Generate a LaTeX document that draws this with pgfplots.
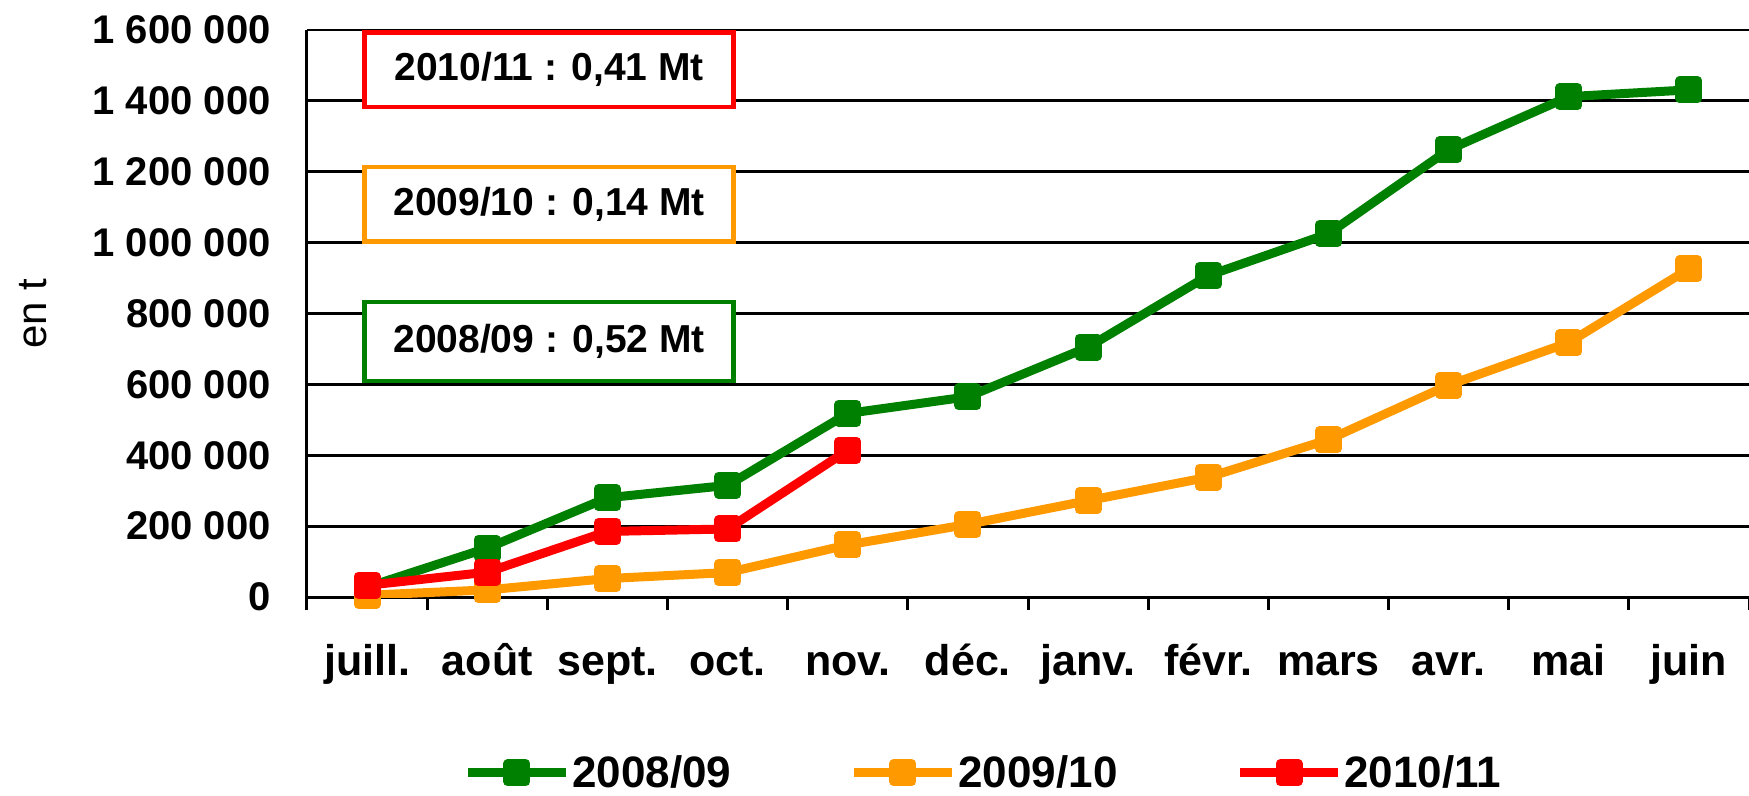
\documentclass[border=0pt]{standalone}
\usepackage{pgfplots}
\pgfplotsset{compat=1.18}
\usepackage{fontspec}
\setmainfont{Liberation Sans}
\definecolor{cgreen}{RGB}{0,128,0}
\definecolor{corange}{RGB}{255,153,0}
\definecolor{cred}{RGB}{255,0,0}
\newcommand{\tickfont}{\fontsize{20bp}{24bp}\selectfont\bfseries}
\newcommand{\xfont}{\fontsize{21.5bp}{25bp}\selectfont\bfseries}
\newcommand{\legfont}{\fontsize{22bp}{26bp}\selectfont\bfseries}
\newcommand{\boxfont}{\fontsize{19.5bp}{23bp}\selectfont\bfseries}
\begin{document}
\begin{tikzpicture}
\path[use as bounding box] (-153.5bp,-99.5bp) rectangle (721bp,298.5bp);
\begin{axis}[
  at={(0,0)}, anchor=south west,
  scale only axis, width=721bp, height=283.5bp,
  xmin=-0.5, xmax=11.5, ymin=0, ymax=1600000,
  scaled y ticks=false,
  axis lines*=left,
  axis line style={-, line width=1.5bp, black},
  ytick={0,200000,400000,600000,800000,1000000,1200000,1400000,1600000},
  yticklabels={0,200 000,400 000,600 000,800 000,1 000 000,1 200 000,1 400 000,1 600 000},
  ymajorgrids, grid style={black, line width=1.4bp},
  ytick style={draw=none},
  yticklabel style={font=\tickfont, inner sep=0pt, xshift=-18bp},
  xtick={0,...,11},
  xticklabels={juill.,août,sept.,oct.,nov.,déc.,janv.,févr.,mars,avr.,mai,juin},
  xtick style={draw=none},
  xticklabel style={font=\xfont, inner sep=0pt, text height=15bp, text depth=4bp, yshift=-24bp},
  extra x ticks={-0.5,0.5,1.5,2.5,3.5,4.5,5.5,6.5,7.5,8.5,9.5,10.5,11.5},
  extra x tick labels={},
  extra x tick style={xtick align=outside, major tick length=6.7bp, xtick style={draw=black, line width=1.5bp}, grid=none},
  ylabel={en t},
  ylabel style={at={(axis description cs:-0.19,0.5)}, anchor=center, rotate=0, font=\fontsize{21bp}{25bp}\selectfont},
  legend columns=3,
  legend style={at={(0.469,-0.310)}, anchor=center, draw=none, fill=none, font=\legfont,
    /tikz/every even column/.append style={column sep=58bp},
    /tikz/every odd column/.append style={column sep=0pt},
    nodes={inner xsep=1bp}},
  legend image code/.code={\draw[#1, mark repeat=2, mark phase=2] plot coordinates {(0bp,0bp) (24.5bp,0bp) (49bp,0bp)};},
  every axis plot/.append style={line width=4.5bp, line join=round, mark=square*, mark size=4.5bp, mark options={solid, line width=0.5bp}},
]
\addplot[cgreen, mark options={fill=cgreen, draw=cgreen}] coordinates {
 (0,28000) (1,138000) (2,280000) (3,315000) (4,518000) (5,565000) (6,705000) (7,907000) (8,1025000) (9,1262000) (10,1412000) (11,1431000)};
\addlegendentry{2008/09}
\addplot[corange, mark options={fill=corange, draw=corange}] coordinates {
 (0,5000) (1,20000) (2,52000) (3,69000) (4,147000) (5,205000) (6,272000) (7,338000) (8,444000) (9,598000) (10,718000) (11,926000)};
\addlegendentry{2009/10}
\addplot[cred, mark options={fill=cred, draw=cred}] coordinates {
 (0,33000) (1,70000) (2,185000) (3,192000) (4,414000)};
\addlegendentry{2010/11}

\draw[cred, line width=2.2bp, fill=white] (axis cs:-0.02,1383000) rectangle (axis cs:3.05,1593000);
\node[font=\boxfont] at (axis cs:1.515,1488000) {2010/11 : 0,41 Mt};
\draw[corange, line width=2.2bp, fill=white] (axis cs:-0.02,1003000) rectangle (axis cs:3.05,1214000);
\node[font=\boxfont] at (axis cs:1.515,1108500) {2009/10 : 0,14 Mt};
\draw[cgreen, line width=2.2bp, fill=white] (axis cs:-0.02,609000) rectangle (axis cs:3.05,832000);
\node[font=\boxfont] at (axis cs:1.515,720500) {2008/09 : 0,52 Mt};
\end{axis}
\end{tikzpicture}
\end{document}
